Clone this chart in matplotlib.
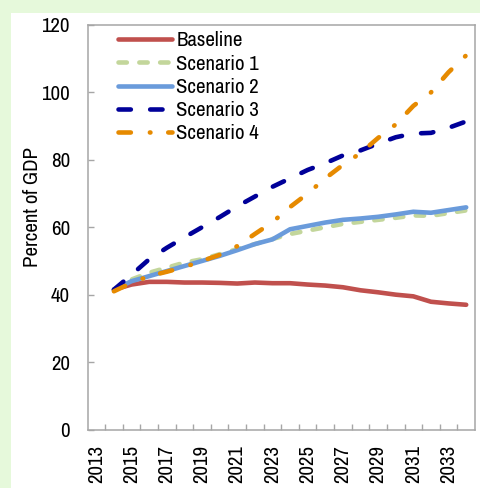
import matplotlib
matplotlib.use("Agg")
import matplotlib.pyplot as plt
from matplotlib.patches import Rectangle

# ---- data -------------------------------------------------------------
years = list(range(2013, 2035))           # category axis (2013 has no data)
data_years = list(range(2014, 2035))

baseline = [41.5, 43.0, 43.8, 43.8, 43.6, 43.6, 43.5, 43.3, 43.6, 43.4, 43.4,
            43.0, 42.7, 42.2, 41.3, 40.7, 40.0, 39.5, 37.9, 37.4, 37.0]
scenario1 = [41.5, 44.5, 46.5, 48.0, 49.5, 50.5, 52.0, 53.5, 55.0, 56.5, 58.0,
             59.0, 60.0, 61.0, 61.6, 62.2, 62.8, 63.5, 63.4, 64.2, 65.0]
scenario2 = [41.5, 44.0, 45.5, 47.0, 48.5, 50.0, 51.5, 53.2, 55.0, 56.4, 59.4,
             60.4, 61.4, 62.2, 62.6, 63.1, 63.8, 64.6, 64.3, 65.1, 65.9]
scenario3 = [41.5, 45.9, 50.5, 53.9, 57.0, 60.0, 63.0, 66.2, 69.1, 72.0, 74.5,
             77.0, 79.0, 81.3, 82.8, 84.8, 86.7, 87.8, 88.0, 89.5, 91.4]
scenario4 = [41.0, 43.5, 45.5, 46.8, 48.2, 50.0, 51.8, 54.4, 58.0, 61.5, 66.0,
             70.0, 74.5, 78.5, 82.0, 86.5, 90.5, 96.0, 100.0, 106.0, 111.0]

series_names = ["Baseline", "Scenario 1", "Scenario 2", "Scenario 3", "Scenario 4"]
series_values = [baseline, scenario1, scenario2, scenario3, scenario4]

y_ticks = [0, 20, 40, 60, 80, 100, 120]
x_label_years = list(range(2013, 2035, 2))

# ---- styling ----------------------------------------------------------
plt.rcParams["font.family"] = ["Archivo Narrow", "Roboto Condensed", "DejaVu Sans"]
plt.rcParams["lines.scale_dashes"] = False

FS = 15
lw = 3.3
grey = "#A6A6A6"
styles = [
    dict(color="#C0504D", linestyle="-"),
    dict(color="#C3D69B", linestyle=(0, (6, 9))),
    dict(color="#6A9BDB", linestyle="-"),
    dict(color="#000099", linestyle=(0, (8.9, 13.9))),
    dict(color="#E68A00", linestyle=(0, (8.9, 13.7, 0.4, 12.8))),
]

fig = plt.figure(figsize=(4.8, 4.88), dpi=100, facecolor="#E6F9DB")
fig.patches.append(Rectangle((11 / 480, 0), 469 / 480, 475 / 488,
                             transform=fig.transFigure, facecolor="white",
                             edgecolor="none", zorder=-5))

ax = fig.add_axes([87.5 / 480, (488 - 429.5) / 488, 387.5 / 480, 404.5 / 488])
ax.set_facecolor("white")

xpos = {y: i for i, y in enumerate(years)}
xs = [xpos[y] for y in data_years]
for name, vals, st in zip(series_names, series_values, styles):
    ax.plot(xs, vals, label=name, lw=lw, solid_capstyle="round",
            dash_capstyle="round", **st)

ax.set_xlim(-0.5, len(years) - 0.5)
ax.set_ylim(0, 120)
ax.set_yticks(y_ticks)
ax.set_yticklabels([str(v) for v in y_ticks], fontsize=FS)
ax.set_xticks([xpos[y] for y in x_label_years])
ax.set_xticklabels([str(y) for y in x_label_years], rotation=90, fontsize=FS)
ax.set_xticks([i + 0.5 for i in range(len(years) - 1)], minor=True)

ax.tick_params(axis="y", direction="in", length=4, width=1, color=grey, pad=12.6)
ax.tick_params(axis="x", which="major", length=0, pad=11)
ax.tick_params(axis="x", which="minor", direction="in", length=4, width=1, color=grey)
for sp in ax.spines.values():
    sp.set_color(grey)
    sp.set_linewidth(1.1)

fig.text(33 / 480, 1 - 207 / 488, "Percent of GDP", rotation=90, fontsize=FS,
         ha="center", va="center")

leg = ax.legend(loc="upper left", bbox_to_anchor=(118 / 480, 1 - 31.5 / 488),
                bbox_transform=fig.transFigure, frameon=False, fontsize=FS,
                handlelength=2.6, handletextpad=0.2, labelspacing=0.2,
                borderpad=0, borderaxespad=0)

fig.savefig("out.png", dpi=100, facecolor=fig.get_facecolor())
